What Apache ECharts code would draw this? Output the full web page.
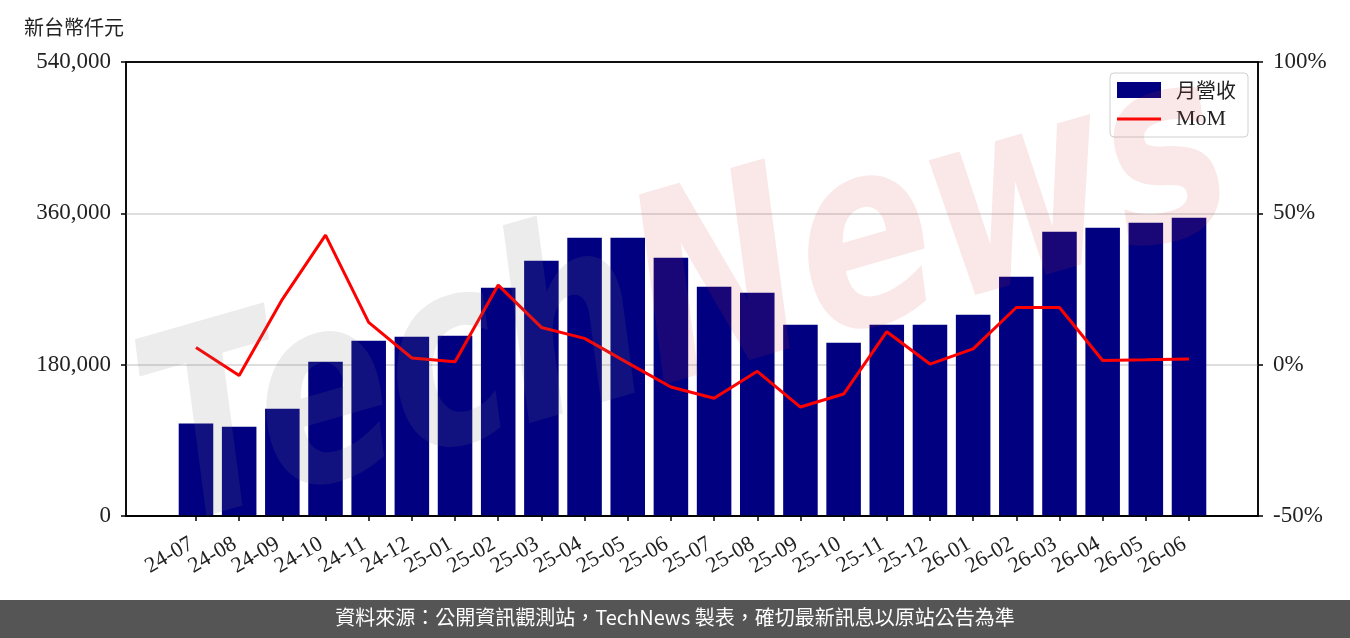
<!DOCTYPE html>
<html>
<head>
<meta charset="utf-8">
<script src="https://cdn.jsdelivr.net/npm/echarts@6/dist/echarts.min.js"></script>
<style>
  html, body { margin: 0; padding: 0; background: #fff; }
  #main { width: 1350px; height: 638px; }
</style>
</head>
<body>
<div id="main"></div>
<script>
// 月份
var months = ['24-07','24-08','24-09','24-10','24-11','24-12','25-01','25-02','25-03','25-04','25-05','25-06',
              '25-07','25-08','25-09','25-10','25-11','25-12','26-01','26-02','26-03','26-04','26-05','26-06'];
// 月營收 (新台幣仟元)
var revenue = [109900,106300,127700,183600,208500,213300,214400,271500,303600,330900,330900,307100,
               272700,265500,227500,206100,227500,227500,239400,284500,338000,342800,348700,354600];
// MoM (%)
var mom = [5.7,-3.6,21.6,42.8,14.0,2.2,1.0,26.3,12.3,8.7,0.6,-7.4,
           -11.1,-2.2,-14.0,-9.7,10.9,0.2,5.2,18.9,18.9,1.4,1.6,1.9];

var serif = "'Liberation Serif', serif";
var cjk = "'Noto Sans CJK TC', sans-serif";
var black = { color: '#000', width: 1.5 };

var option = {
  animation: false,
  backgroundColor: '#fff',
  title: {
    text: '新台幣仟元',
    left: 19, top: 12,
    textStyle: { fontFamily: cjk, fontSize: 20, fontWeight: 'normal', color: '#222' }
  },
  legend: {
    orient: 'vertical',
    left: 1110, top: 73,
    itemWidth: 44, itemHeight: 16,
    itemGap: 8,
    padding: [7, 12, 7, 7],
    backgroundColor: 'rgba(255,255,255,0.85)',
    borderColor: '#d0d0d0', borderWidth: 1, borderRadius: 4,
    textStyle: { fontFamily: serif, fontSize: 22, color: '#222', padding: [0, 0, 0, 10] },
    data: [
      { name: '月營收', icon: 'rect', textStyle: { fontFamily: cjk, fontSize: 20 } },
      { name: 'MoM', icon: 'path://M0,0 H44 V3 H0 Z' }
    ]
  },
  // grid 0: 放資料 ; grid 1: 外框與兩側刻度
  grid: [
    { left: 174.4, right: 139.4, top: 62, bottom: 122 },
    { left: 126, right: 92, top: 62, bottom: 122, show: true, borderColor: '#000', borderWidth: 1.5 }
  ],
  xAxis: [{
    type: 'category',
    gridIndex: 0,
    data: months,
    boundaryGap: true,
    axisLine: { show: false },
    axisTick: { show: true, alignWithLabel: true, length: 5, lineStyle: black },
    axisLabel: {
      interval: 0, rotate: 30, margin: 24,
      padding: [0, 5, 0, 0],
      fontFamily: serif, fontSize: 22, color: '#222'
    },
    splitLine: { show: false }
  }, {
    type: 'value',
    gridIndex: 1,
    min: 0, max: 1,
    z: 5,
    axisLine: { show: true, onZero: false, lineStyle: black },
    axisTick: { show: false },
    axisLabel: { show: false },
    splitLine: { show: false }
  }],
  yAxis: [{
    type: 'value', gridIndex: 0, show: false,
    min: 0, max: 540000, interval: 180000,
    splitLine: { show: false }
  }, {
    type: 'value', gridIndex: 0, show: false,
    min: -50, max: 100, interval: 50,
    splitLine: { show: false }
  }, {
    type: 'value', gridIndex: 1, position: 'left',
    min: 0, max: 540000, interval: 180000,
    axisLine: { show: true, onZero: false, lineStyle: black },
    axisTick: { show: true, length: 5, lineStyle: black },
    axisLabel: {
      margin: 15, fontFamily: serif, fontSize: 23, color: '#222',
      formatter: function (v) { return v.toLocaleString('en-US'); }
    },
    splitLine: { show: true, lineStyle: { color: ['#000', '#d3d3d3', '#d3d3d3', '#000'], width: 1.5 } }
  }, {
    type: 'value', gridIndex: 1, position: 'right',
    min: -50, max: 100, interval: 50,
    axisLine: { show: true, onZero: false, lineStyle: black },
    axisTick: { show: true, length: 5, lineStyle: black },
    axisLabel: { margin: 15, fontFamily: serif, fontSize: 23, color: '#222', formatter: '{value}%' },
    splitLine: { show: false }
  }],
  graphic: [
    {
      type: 'text',
      left: 118, top: 28,
      z: 100,
      rotation: 0.28,
      scaleY: 1.3,
      silent: true,
      style: {
        text: '{a|Tech}{b|News}',
        rich: {
          a: { fontFamily: "'DejaVu Sans', sans-serif", fontStyle: 'italic', fontWeight: 'bold', fontSize: 200, fill: 'rgba(120,120,120,0.14)' },
          b: { fontFamily: "'DejaVu Sans', sans-serif", fontStyle: 'italic', fontWeight: 'bold', fontSize: 200, fill: 'rgba(215,60,60,0.12)' }
        }
      }
    },
    {
      type: 'rect', left: 0, top: 600, z: 100,
      shape: { width: 1350, height: 38 },
      style: { fill: '#555' }
    },
    {
      type: 'text', left: 'center', top: 607, z: 101,
      style: {
        text: '資料來源：公開資訊觀測站，TechNews 製表，確切最新訊息以原站公告為準',
        fontFamily: cjk, fontSize: 20, fill: '#fff'
      }
    }
  ],
  series: [{
    name: '月營收',
    type: 'bar',
    xAxisIndex: 0, yAxisIndex: 0,
    barWidth: '80%',
    itemStyle: { color: '#000080' },
    data: revenue
  }, {
    name: 'MoM',
    type: 'line',
    xAxisIndex: 0, yAxisIndex: 1,
    showSymbol: false,
    symbol: 'none',
    lineStyle: { color: '#ff0000', width: 3 },
    itemStyle: { color: '#ff0000' },
    data: mom
  }]
};

var myChart = echarts.init(document.getElementById('main'));
myChart.setOption(option);
</script>
</body>
</html>
